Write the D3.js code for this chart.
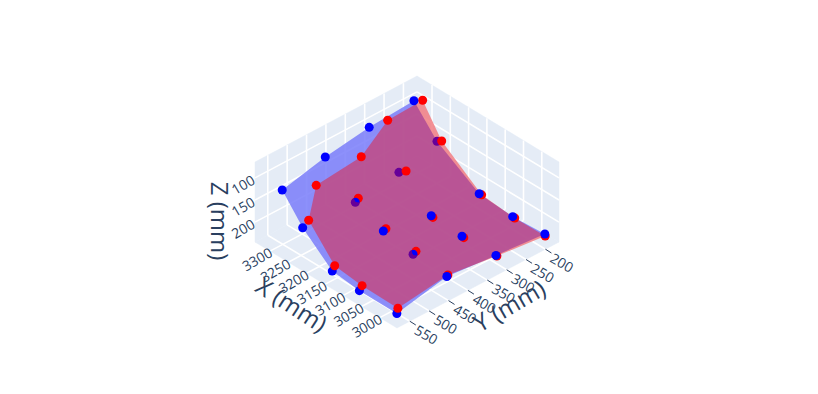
<!DOCTYPE html>
<html>
<head>
<meta charset="utf-8">
<script src="https://cdn.jsdelivr.net/npm/d3@7"></script>
<style>html,body{margin:0;padding:0;background:#fff;overflow:hidden}svg{display:block}</style>
</head>
<body>
<script>
// Axis ranges and ticks
const xRange = [2953, 3341];
const yRange = [583, 165];
const zRange = [245, 64];
const xTicks = [3000, 3050, 3100, 3150, 3200, 3250, 3300];
const yTicks = [200, 250, 300, 350, 400, 450, 500, 550];
const zTicks = [100, 150, 200];

// Measured surfaces: 5 rows (X) x 4 columns (Y), row by row
const blueX = [2985,2985,2985,2985, 3060,3060,3060,3060, 3140,3140,3140,3140, 3220,3220,3220,3220, 3295,3295,3295,3295];
const blueY = [553.1,424.2,297.5,171.3, 579,440.5,314.2,183.4, 573.5,441.7,318,194.3, 574.2,438.4,325.9,227.7, 556.2,445.1,331.8,216.4];
const blueZ = [242.1,218.4,229.7,239.9, 216,198.1,216.2,232.8, 214.4,185.1,208.1,216, 156.1,161.7,146.4,121.9, 116.7,93.9,79.4,72.9];
const redX = [2985,2992.6,2985,2985, 3060,3060,3060,3060, 3140,3143.9,3140,3140, 3220,3220,3211,3211, 3295,3295,3295,3295];
const redY = [550.5,414.3,295,170.4, 572.1,433,309.6,178.2, 567.2,431.3,313.8,188, 558.8,430.8,315.9,224, 468.5,352.3,284.1,193.9];
const redZ = [231.6,223.5,232.2,244.9, 207.9,195,221.5,238.2, 205.2,186.9,213.8,221.3, 146.5,156.3,143.6,118.3, 147.1,136.4,85.7,82.3];
const overlapIdx = [5, 13];
const nRows = 5, nCols = 4;

const width = 818, height = 394, originX = 397, originY = 328;
const inkColor = "#2a3f5f", wallColor = "#e5ecf6";
const font = "'Open Sans', sans-serif";

const xToDx = d3.scaleLinear().domain(xRange).range([0, -142]);
const xToDy = d3.scaleLinear().domain(xRange).range([0, -86]);
const yToDx = d3.scaleLinear().domain(yRange).range([0, 162]);
const yToDy = d3.scaleLinear().domain(yRange).range([0, -86]);
const zToDy = d3.scaleLinear().domain(zRange).range([0, -80]);

function proj(x, y, z) {
  return [originX + xToDx(x) + yToDx(y), originY + xToDy(x) + yToDy(y) + zToDy(z)];
}

const svg = d3.select("body").append("svg").attr("width", width).attr("height", height);
const poly = d3.line();

const [x0, x1] = xRange, [y0, y1] = yRange, [zb, zt] = zRange;
const planes = [
  [[x1,y0,zb],[x1,y0,zt],[x1,y1,zt],[x1,y1,zb]],
  [[x0,y1,zb],[x0,y1,zt],[x1,y1,zt],[x1,y1,zb]],
  [[x0,y0,zb],[x1,y0,zb],[x1,y1,zb],[x0,y1,zb]]
];
svg.append("g").selectAll("path").data(planes).join("path")
  .attr("d", d => poly(d.map(p => proj(...p))) + "Z")
  .attr("fill", wallColor).attr("stroke", wallColor).attr("stroke-width", 0.5);

const gridSegs = [];
xTicks.forEach(t => {
  gridSegs.push([[t,y0,zb],[t,y1,zb]]);
  gridSegs.push([[t,y1,zb],[t,y1,zt]]);
});
yTicks.forEach(t => {
  gridSegs.push([[x0,t,zb],[x1,t,zb]]);
  gridSegs.push([[x1,t,zb],[x1,t,zt]]);
});
zTicks.forEach(t => {
  gridSegs.push([[x1,y0,t],[x1,y1,t]]);
  gridSegs.push([[x0,y1,t],[x1,y1,t]]);
});
svg.append("g").selectAll("path").data(gridSegs).join("path")
  .attr("d", d => poly(d.map(p => proj(...p))))
  .attr("fill", "none").attr("stroke", "#fff").attr("stroke-width", 1.6);

// Y tick marks
svg.append("g").selectAll("line").data(yTicks).join("line")
  .each(function(t) {
    const a = proj(x0, t, zb);
    d3.select(this).attr("x1", a[0]).attr("y1", a[1]).attr("x2", a[0] + 6).attr("y2", a[1] + 3.8);
  })
  .attr("stroke", inkColor).attr("stroke-width", 1);

const pts = (X, Y, Z) => X.map((x, i) => proj(x, Y[i], Z[i]));
const bluePts = pts(blueX, blueY, blueZ);
const redPts = pts(redX, redY, redZ);

function surfacePath(P) {
  let d = "";
  for (let r = 0; r < nRows - 1; r++) for (let c = 0; c < nCols - 1; c++) {
    const i = r * nCols + c, k = i + nCols;
    d += poly([P[i], P[i + 1], P[k + 1]]) + "Z" + poly([P[i], P[k + 1], P[k]]) + "Z";
  }
  return d;
}

const isDeep = i => blueZ[i] > redZ[i];
const idx = d3.range(blueX.length);

function dots(list, P, color) {
  svg.append("g").selectAll("circle").data(list).join("circle")
    .attr("cx", i => P[i][0]).attr("cy", i => P[i][1]).attr("r", 4.5).attr("fill", color);
}

// Gridlines show only faintly through the surfaces
svg.append("path").attr("d", surfacePath(bluePts)).attr("fill", wallColor).attr("fill-opacity", 0.75);
svg.append("path").attr("d", surfacePath(redPts)).attr("fill", wallColor).attr("fill-opacity", 0.75);

dots(idx.filter(isDeep), bluePts, "#0000ff");
svg.append("path").attr("d", surfacePath(bluePts)).attr("fill", "#0000ff").attr("fill-opacity", 0.4).attr("stroke", "none");
svg.append("path").attr("d", surfacePath(redPts)).attr("fill", "#ff0000").attr("fill-opacity", 0.4).attr("stroke", "none");
dots(idx, redPts, "#ff0000");
dots(idx.filter(i => !isDeep(i)), bluePts, "#0000ff");

// Blue visible where it crosses a red marker
const defs = svg.append("defs");
overlapIdx.forEach(i => {
  defs.append("clipPath").attr("id", "clip" + i).append("circle")
    .attr("cx", redPts[i][0]).attr("cy", redPts[i][1]).attr("r", 4.5);
  svg.append("circle").attr("cx", bluePts[i][0]).attr("cy", bluePts[i][1]).attr("r", 4.5)
    .attr("fill", "#0000ff").attr("clip-path", `url(#clip${i})`);
});

function label(g, list, pos, rot, size) {
  g.selectAll("text").data(list).join("text")
    .attr("transform", d => { const p = pos(d); return `translate(${p[0]},${p[1]}) rotate(${rot})`; })
    .attr("text-anchor", "middle").attr("dominant-baseline", "central")
    .attr("font-family", font).attr("font-size", size).attr("fill", inkColor)
    .text(d => d);
}
label(svg.append("g"), xTicks, t => { const p = proj(t, y0, zb); return [p[0] - 13, p[1] + 8]; }, -30, 14);
label(svg.append("g"), yTicks, t => { const p = proj(x0, t, zb); return [p[0] + 16.6, p[1] + 13.2]; }, 30, 14);
label(svg.append("g"), zTicks, t => { const p = proj(x1, y0, t); return [p[0] - 12, p[1] + 6.5]; }, -30, 14);

const titles = [
  {text: "X (mm)", x: 292, y: 304, rot: 33},
  {text: "Y (mm)", x: 509, y: 305, rot: -30},
  {text: "Z (mm)", x: 220, y: 221, rot: 90}
];
svg.append("g").selectAll("text").data(titles).join("text")
  .attr("transform", d => `translate(${d.x},${d.y}) rotate(${d.rot})`)
  .attr("text-anchor", "middle").attr("dominant-baseline", "central")
  .attr("font-family", font).attr("font-size", 24).attr("fill", inkColor)
  .text(d => d.text);
</script>
</body>
</html>
